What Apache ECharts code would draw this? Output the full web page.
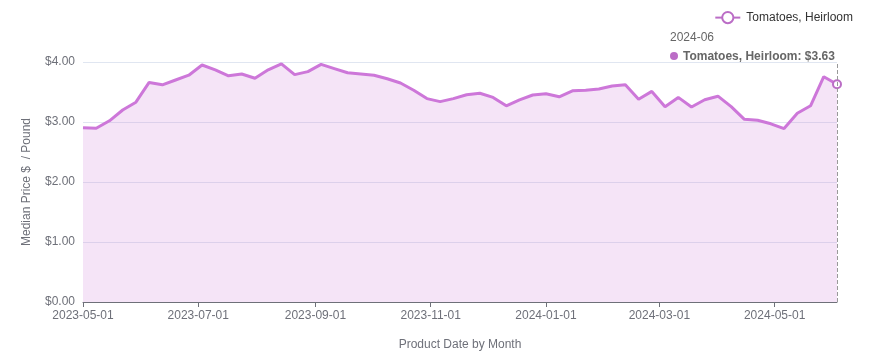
<!DOCTYPE html>
<html>
<head>
<meta charset="utf-8">
<script src="https://cdn.jsdelivr.net/npm/echarts@6/dist/echarts.min.js"></script>
<style>
html,body{margin:0;padding:0;background:#fff;}
#main{width:869px;height:364px;}
</style>
</head>
<body>
<div id="main"></div>
<script>
const seriesName = 'Tomatoes, Heirloom';
const dates = [
  '2023-05-01','2023-05-08','2023-05-15','2023-05-22','2023-05-29',
  '2023-06-05','2023-06-12','2023-06-19','2023-06-26',
  '2023-07-03','2023-07-10','2023-07-17','2023-07-24','2023-07-31',
  '2023-08-07','2023-08-14','2023-08-21','2023-08-28',
  '2023-09-04','2023-09-11','2023-09-18','2023-09-25',
  '2023-10-02','2023-10-09','2023-10-16','2023-10-23','2023-10-30',
  '2023-11-06','2023-11-13','2023-11-20','2023-11-27',
  '2023-12-04','2023-12-11','2023-12-18','2023-12-25',
  '2024-01-01','2024-01-08','2024-01-15','2024-01-22','2024-01-29',
  '2024-02-05','2024-02-12','2024-02-19','2024-02-26',
  '2024-03-04','2024-03-11','2024-03-18','2024-03-25',
  '2024-04-01','2024-04-08','2024-04-15','2024-04-22','2024-04-29',
  '2024-05-06','2024-05-13','2024-05-20','2024-05-27',
  '2024-06-03'
];
const prices = [
  2.905, 2.895, 3.02, 3.20, 3.33,
  3.66, 3.62, 3.70, 3.78,
  3.95, 3.87, 3.77, 3.80, 3.73,
  3.87, 3.97, 3.79, 3.84,
  3.96, 3.89, 3.82, 3.80,
  3.78, 3.72, 3.65, 3.53, 3.39,
  3.34, 3.39, 3.455, 3.48,
  3.41, 3.27, 3.37, 3.45,
  3.47, 3.42, 3.52, 3.53, 3.55,
  3.60, 3.62, 3.38, 3.51,
  3.255, 3.41, 3.25, 3.37,
  3.43, 3.255, 3.045, 3.03, 2.97,
  2.89, 3.145, 3.27, 3.755,
  3.63
];
const yTicks = [0, 1, 2, 3, 4];

const lineColor = '#bb6dc6';
const DAY = 86400000;
const chart = echarts.init(document.getElementById('main'));
const data = dates.map((d, i) => [d, prices[i]]);
function pad(n){return (n<10?'0':'')+n;}
function fmtDay(v){const d=new Date(v);return d.getFullYear()+'-'+pad(d.getMonth()+1)+'-'+pad(d.getDate());}
function fmtMonth(v){const d=new Date(v);return d.getFullYear()+'-'+pad(d.getMonth()+1);}

chart.setOption({
  animation: false,
  textStyle: {fontFamily: 'Liberation Sans, Arial, sans-serif'},
  legend: {
    right: 11, top: 6,
    itemWidth: 25, itemHeight: 14,
    textStyle: {color: '#333', fontSize: 12, padding: [0, 0, 0, 1]},
    data: [seriesName]
  },
  grid: {left: 83, right: 32, top: 62, bottom: 62, containLabel: false},
  tooltip: {
    trigger: 'axis',
    alwaysShowContent: true,
    backgroundColor: 'transparent',
    borderWidth: 0,
    padding: 0,
    extraCssText: 'box-shadow:none;',
    position: function(){ return [670, 28]; },
    axisPointer: {type: 'line', lineStyle: {type: 'dashed', color: '#999', width: 1}},
    formatter: function(params){
      const p = params[0];
      return '<div style="font-family:Liberation Sans,Arial,sans-serif;font-size:12px;color:#666;line-height:19px;">' +
        fmtMonth(p.value[0]) + '<br/>' +
        '<span style="display:inline-block;width:8px;height:8px;border-radius:4px;background:' + lineColor + ';margin-right:5px;"></span>' +
        '<b style="color:#666">' + p.seriesName + ': $' + p.value[1].toFixed(2) + '</b></div>';
    }
  },
  xAxis: {
    type: 'time',
    min: 'dataMin', max: 'dataMax',
    minInterval: 50 * DAY,
    maxInterval: 70 * DAY,
    name: 'Product Date by Month',
    nameLocation: 'middle',
    nameGap: 37,
    nameTextStyle: {color: '#6e7079', fontSize: 12},
    axisLine: {lineStyle: {color: '#6e7079'}},
    axisTick: {show: true},
    minorTick: {show: false},
    splitLine: {show: false},
    axisLabel: {color: '#6e7079', fontSize: 12, formatter: function(v){return fmtDay(v);}, showMinLabel: true, showMaxLabel: false}
  },
  yAxis: {
    type: 'value',
    min: yTicks[0], max: yTicks[yTicks.length-1], interval: 1,
    name: 'Median Price $  / Pound',
    nameLocation: 'middle',
    nameGap: 50,
    nameTextStyle: {color: '#6e7079', fontSize: 12},
    axisLine: {show: false},
    axisTick: {show: false},
    splitLine: {lineStyle: {color: '#e0e6f1'}},
    axisLabel: {color: '#6e7079', fontSize: 12, formatter: function(v){return '$' + v.toFixed(2);}}
  },
  series: [{
    name: seriesName,
    type: 'line',
    data: data,
    showSymbol: false,
    symbol: 'emptyCircle',
    symbolSize: 8,
    itemStyle: {color: lineColor, borderWidth: 2},
    lineStyle: {color: lineColor, width: 3},
    areaStyle: {color: lineColor, opacity: 0.2},
    emphasis: {scale: false}
  }]
});
chart.dispatchAction({type: 'showTip', seriesIndex: 0, dataIndex: dates.length - 1});
</script>
</body>
</html>
